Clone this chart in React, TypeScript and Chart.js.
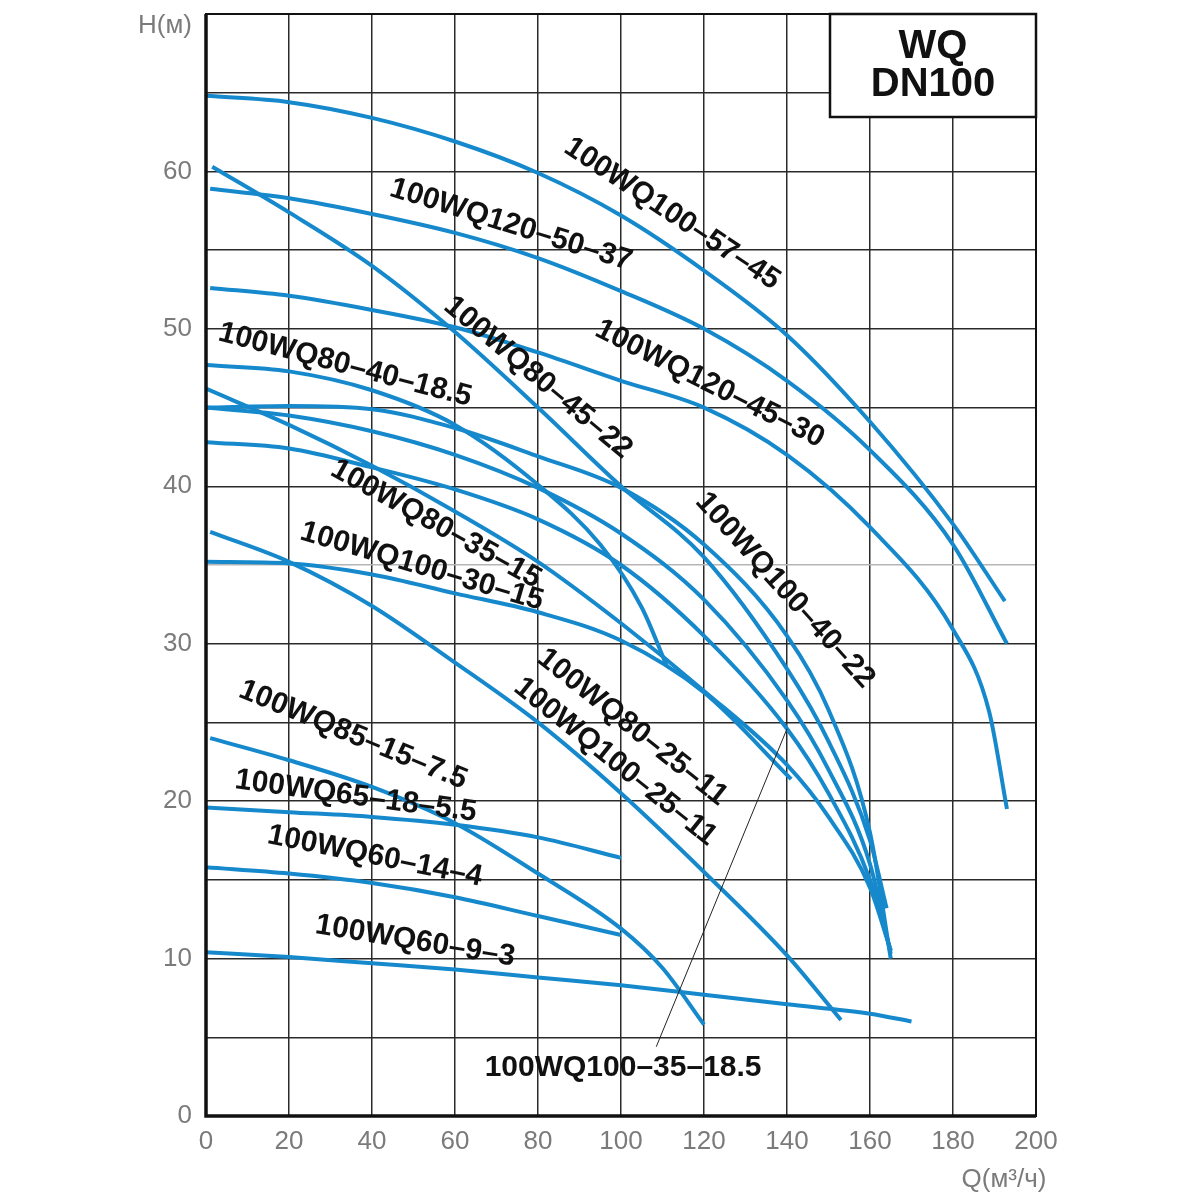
import { useEffect, useRef } from 'react';
import { Chart, registerables } from 'chart.js';

Chart.register(...registerables);

type Pt = [number, number];

// Q (m3/h), H (m)
const wq100_57_45: Pt[] = [[0, 64.8], [20, 64.4], [40, 63.4], [60, 61.9], [80, 59.9], [100, 57.2], [120, 53.7], [140, 49.6], [160, 44.1], [180, 37.6], [192.5, 32.7]];
const wq120_50_37: Pt[] = [[1, 58.9], [20, 58.3], [40, 57.3], [60, 56.1], [80, 54.5], [100, 52.4], [120, 50.0], [140, 46.7], [160, 42.3], [180, 36.3], [193, 30.0]];
const wq120_45_30: Pt[] = [[1, 52.6], [20, 52.1], [40, 51.2], [60, 50.1], [80, 48.5], [100, 46.7], [120, 45.0], [140, 42.0], [160, 37.4], [180, 30.9], [188.7, 25.7], [193, 19.5]];
const wq80_45_22: Pt[] = [[1.5, 60.3], [20, 57.4], [40, 54.0], [60, 49.8], [80, 45.0], [100, 40.0], [120, 35.5], [140, 28.4], [150, 23.8], [160, 17.5], [164, 13.2]];
const wq80_40_18_5: Pt[] = [[0, 47.7], [20, 47.3], [40, 46.1], [60, 43.9], [80, 40.1], [95, 36.3], [105, 32.3], [111, 28.6]];
const wq100_40_22: Pt[] = [[0, 45.0], [20, 45.1], [40, 44.9], [60, 43.7], [80, 41.9], [100, 39.9], [120, 36.3], [140, 30.5], [150, 25.8], [160, 18.0], [165, 10.0]];
const wqMid45b: Pt[] = [[0, 45.0], [20, 44.5], [40, 43.5], [60, 42.0], [80, 39.9], [100, 37.0], [120, 32.8], [140, 26.4], [150, 22.0], [160, 16.0], [165, 10.3]];
const wq100_35_18_5: Pt[] = [[0, 42.8], [20, 42.4], [40, 41.2], [60, 39.8], [80, 37.9], [100, 35.0], [120, 30.5], [140, 24.6], [150, 20.5], [160, 15.0], [165, 10.5]];
const wq80_35_15: Pt[] = [[0, 46.2], [20, 43.9], [40, 41.3], [60, 38.4], [80, 35.2], [100, 31.3], [120, 27.0], [140, 22.3], [150, 19.0], [160, 14.5], [165, 10.5]];
const wq100_30_15: Pt[] = [[0, 35.2], [20, 35.1], [40, 34.4], [60, 33.2], [80, 32.0], [100, 30.2], [120, 26.9], [141, 21.4]];
const wq80_25_11: Pt[] = [[1, 37.1], [20, 35.2], [40, 32.4], [60, 28.8], [80, 25.0], [100, 20.5], [120, 15.5], [140, 10.2], [153, 6.1]];
const wq85_15_7_5: Pt[] = [[1, 24.0], [20, 22.6], [40, 20.9], [60, 18.6], [80, 15.4], [100, 11.9], [110, 9.4], [120, 5.8]];
const wq65_18_5_5: Pt[] = [[0, 19.6], [20, 19.3], [40, 19.0], [60, 18.5], [80, 17.7], [100, 16.4]];
const wq60_14_4: Pt[] = [[0, 15.8], [20, 15.4], [40, 14.8], [60, 13.9], [80, 12.7], [100, 11.5]];
const wq60_9_3: Pt[] = [[0, 10.4], [20, 10.1], [40, 9.7], [60, 9.3], [80, 8.8], [100, 8.3], [120, 7.7], [140, 7.1], [160, 6.5], [170, 6.0]];

const allCurves: Pt[][] = [
  wq100_57_45, wq120_50_37, wq120_45_30, wq80_45_22, wq80_40_18_5, wq100_40_22, wqMid45b,
  wq100_35_18_5, wq80_35_15, wq100_30_15, wq80_25_11, wq85_15_7_5, wq65_18_5_5, wq60_14_4, wq60_9_3,
];

// label text, centre (Q, H) and rotation in degrees
const curveLabels = [
  { text: '100WQ100–57–45', q: 112.3, h: 57.3, angle: 33.5 },
  { text: '100WQ120–50–37', q: 73.5, h: 56.6, angle: 17.3 },
  { text: '100WQ80–45–22', q: 80, h: 46.9, angle: 40 },
  { text: '100WQ120–45–30', q: 121.4, h: 46.5, angle: 26.6 },
  { text: '100WQ80–40–18.5', q: 33.5, h: 47.7, angle: 14.7 },
  { text: '100WQ80–35–15', q: 55.4, h: 37.6, angle: 29 },
  { text: '100WQ100–30–15', q: 52, h: 34.9, angle: 16.4 },
  { text: '100WQ100–40–22', q: 139.5, h: 33.4, angle: 48 },
  { text: '100WQ80–25–11', q: 102.7, h: 24.7, angle: 38.5 },
  { text: '100WQ100–25–11', q: 98.6, h: 22.5, angle: 38.7 },
  { text: '100WQ85–15–7.5', q: 35.4, h: 24.2, angle: 22.4 },
  { text: '100WQ65–18–5.5', q: 36.1, h: 20.3, angle: 7.8 },
  { text: '100WQ60–14–4', q: 40.7, h: 16.5, angle: 11.3 },
  { text: '100WQ60–9–3', q: 50.4, h: 11.1, angle: 9.3 },
  { text: '100WQ100–35–18.5', q: 100.5, h: 3.05, angle: 0 },
];

// leader from the bottom label up to its curve
const leaderQ = [108.5, 140];
const leaderH = [4.4, 24.6];

const BLUE = '#1689cc';
const GRAY = '#7b7b7b';
const FONT = '"Liberation Sans", Arial, sans-serif';

const overlay = {
  id: 'overlay',
  afterDatasetsDraw(chart: any) {
    const { ctx, chartArea: a } = chart;
    const xs = chart.scales.x;
    const ys = chart.scales.y;
    ctx.save();

    // frame
    ctx.strokeStyle = '#111';
    ctx.lineWidth = 2;
    ctx.strokeRect(a.left, a.top, a.right - a.left, a.bottom - a.top);
    ctx.lineWidth = 3.5;
    ctx.beginPath();
    ctx.moveTo(a.left, a.top);
    ctx.lineTo(a.left, a.bottom);
    ctx.lineTo(a.right, a.bottom);
    ctx.stroke();

    // leader line
    ctx.lineWidth = 1;
    ctx.strokeStyle = '#222';
    ctx.beginPath();
    ctx.moveTo(xs.getPixelForValue(leaderQ[0]), ys.getPixelForValue(leaderH[0]));
    ctx.lineTo(xs.getPixelForValue(leaderQ[1]), ys.getPixelForValue(leaderH[1]));
    ctx.stroke();

    // curve labels
    ctx.font = `bold 30px ${FONT}`;
    ctx.fillStyle = '#111';
    ctx.textAlign = 'center';
    ctx.textBaseline = 'middle';
    for (const l of curveLabels) {
      ctx.save();
      ctx.translate(xs.getPixelForValue(l.q), ys.getPixelForValue(l.h));
      ctx.rotate((l.angle * Math.PI) / 180);
      ctx.fillText(l.text, 0, 0);
      ctx.restore();
    }

    // title box
    const bx = a.right - 206;
    const by = a.top;
    ctx.fillStyle = '#fff';
    ctx.fillRect(bx, by, 208, 103);
    ctx.lineWidth = 2.5;
    ctx.strokeStyle = '#111';
    ctx.strokeRect(bx, by, 206, 103);
    ctx.fillStyle = '#111';
    ctx.font = `bold 40px ${FONT}`;
    ctx.fillText('WQ', bx + 103, by + 33);
    ctx.fillText('DN100', bx + 103, by + 71);

    // axis titles
    ctx.fillStyle = GRAY;
    ctx.font = `26px ${FONT}`;
    ctx.textAlign = 'right';
    ctx.fillText('H(м)', a.left - 14, 26);
    ctx.textAlign = 'center';
    ctx.fillText('Q(м³/ч)', 1004, 1180);

    ctx.restore();
  },
};

export default function App() {
  const canvasRef = useRef<HTMLCanvasElement>(null);
  const chartRef = useRef<Chart | null>(null);

  useEffect(() => {
    if (!canvasRef.current) return;
    if (chartRef.current) chartRef.current.destroy();

    const datasets = allCurves.map((pts) => ({
      data: pts.map(([q, h]) => ({ x: q, y: h })),
      showLine: true,
      borderColor: BLUE,
      borderWidth: 4,
      pointRadius: 0,
      cubicInterpolationMode: 'monotone' as const,
      fill: false,
    }));

    chartRef.current = new Chart(canvasRef.current, {
      type: 'scatter',
      data: { datasets },
      options: {
        responsive: false,
        animation: false,
        devicePixelRatio: 1,
        layout: { padding: { left: 0, top: 14, right: 164, bottom: 0 } },
        plugins: {
          legend: { display: false },
          tooltip: { enabled: false },
        },
        scales: {
          x: {
            type: 'linear',
            min: 0,
            max: 200,
            afterFit: (s: any) => {
              s.height = 84;
              s.paddingLeft = 0;
              s.paddingRight = 0;
            },
            grid: { color: '#2a2a2a', lineWidth: 1.5, drawTicks: false },
            border: { display: false },
            ticks: {
              stepSize: 20,
              autoSkip: false,
              maxRotation: 0,
              padding: 10,
              color: GRAY,
              font: { family: FONT, size: 26 },
            },
          },
          y: {
            type: 'linear',
            min: 0,
            max: 70,
            afterFit: (s: any) => {
              s.width = 206;
              s.paddingTop = 0;
              s.paddingBottom = 0;
            },
            grid: {
              color: (c: any) => (c.tick && c.tick.value === 35 ? '#b5b5b5' : '#2a2a2a'),
              lineWidth: 1.5,
              drawTicks: false,
            },
            border: { display: false },
            ticks: {
              stepSize: 5,
              autoSkip: false,
              padding: 14,
              color: GRAY,
              font: { family: FONT, size: 26 },
              callback: (v: any) => (v % 10 === 0 && v <= 60 ? String(v) : ''),
            },
          },
        },
      },
      plugins: [overlay],
    });

    return () => {
      if (chartRef.current) {
        chartRef.current.destroy();
        chartRef.current = null;
      }
    };
  }, []);

  return (
    <div style={{ position: 'absolute', left: 0, top: 0, width: 1200, height: 1200, background: '#fff' }}>
      <canvas ref={canvasRef} width={1200} height={1200} />
    </div>
  );
}
